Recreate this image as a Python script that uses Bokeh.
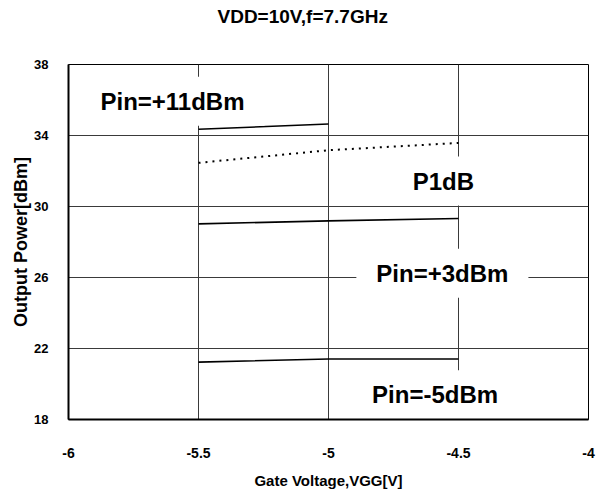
from bokeh.plotting import figure
from bokeh.models import Range1d, FixedTicker, Label, Title
from bokeh.embed import file_html
from bokeh.resources import INLINE

# ---- data -------------------------------------------------------------
title_text = "VDD=10V,f=7.7GHz"
x_label = "Gate Voltage,VGG[V]"
y_label = "Output Power[dBm]"

x_ticks = [-6, -5.5, -5, -4.5, -4]
x_tick_labels = ["-6", "-5.5", "-5", "-4.5", "-4"]
y_ticks = [18, 22, 26, 30, 34, 38]
y_tick_labels = ["18", "22", "26", "30", "34", "38"]

vgg_11 = [-5.5, -5.0]
pout_11 = [34.35, 34.65]          # Pin=+11dBm

vgg = [-5.5, -5.0, -4.5]
p1db = [32.46, 33.17, 33.58]       # P1dB (dotted)
pout_3 = [29.02, 29.19, 29.32]     # Pin=+3dBm
pout_m5 = [21.23, 21.41, 21.41]    # Pin=-5dBm

label_texts = ["Pin=+11dBm", "P1dB", "Pin=+3dBm", "Pin=-5dBm"]
label_x = [-5.6, -4.558, -4.562, -4.59]
label_y = [35.93, 31.43, 26.24, 19.39]

# ---- figure -----------------------------------------------------------
SANS = "Liberation Sans"

p = figure(width=605, height=495, output_backend="svg", toolbar_location=None,
           x_range=Range1d(-6, -4), y_range=Range1d(18, 38),
           min_border_left=68, min_border_right=17,
           min_border_top=64, min_border_bottom=76)

p.title.text = title_text
p.title.align = "left"
p.title.offset = 149
p.title.standoff = 4
p.title.text_font = SANS
p.title.text_font_size = "19px"
p.title.text_font_style = "bold"
p.title.text_color = "black"

# empty spacer between the title and the frame
p.add_layout(Title(text=" ", text_font_size="2px", standoff=32), "above")

p.outline_line_color = "black"
p.outline_line_width = 1
p.background_fill_color = "white"
p.border_fill_color = "white"

# axes
p.xaxis.ticker = FixedTicker(ticks=x_ticks)
p.xaxis.major_label_overrides = dict(zip(x_ticks, x_tick_labels))
p.yaxis.ticker = FixedTicker(ticks=y_ticks)
p.yaxis.major_label_overrides = dict(zip(y_ticks, y_tick_labels))

for ax in (p.xaxis, p.yaxis):
    ax.axis_line_color = "black"
    ax.axis_line_width = 2
    ax.major_tick_in = 0
    ax.major_tick_out = 0
    ax.minor_tick_in = 0
    ax.minor_tick_out = 0
    ax.major_label_text_font = SANS
    ax.major_label_text_font_style = "bold"
    ax.major_label_text_color = "black"
    ax.axis_label_text_font = SANS
    ax.axis_label_text_font_style = "bold"
    ax.axis_label_text_color = "black"

p.xaxis.major_label_text_font_size = "14px"
p.xaxis.major_label_standoff = 28
p.xaxis.axis_label = x_label
p.xaxis.axis_label_text_font_size = "15px"
p.xaxis.axis_label_standoff = 11

p.yaxis.major_label_text_font_size = "13px"
p.yaxis.major_label_standoff = 20
p.yaxis.axis_label = y_label
p.yaxis.axis_label_text_font_size = "18px"
p.yaxis.axis_label_standoff = 0

p.xgrid.ticker = FixedTicker(ticks=x_ticks)
p.ygrid.ticker = FixedTicker(ticks=y_ticks)
p.xgrid.grid_line_color = "#3a3a3a"
p.ygrid.grid_line_color = "#3a3a3a"
p.xgrid.grid_line_width = 1
p.ygrid.grid_line_width = 1

# series
p.line(vgg_11, pout_11, line_color="black", line_width=1.6)
p.line(vgg, p1db, line_color="black", line_width=2, line_dash="2 5")
p.line(vgg, pout_3, line_color="black", line_width=1.6)
p.line(vgg, pout_m5, line_color="black", line_width=1.6)

# in-plot labels with white boxes (above the grid, below the axes)
for t, lx, ly in zip(label_texts, label_x, label_y):
    p.add_layout(Label(x=lx, y=ly, text=t, text_align="center",
                       text_baseline="middle", text_font=SANS,
                       text_font_size="24px", text_font_style="bold",
                       text_color="black", background_fill_color="white",
                       padding=(20, 11), level="glyph"))

open("out.html", "w").write(file_html(p, INLINE))
